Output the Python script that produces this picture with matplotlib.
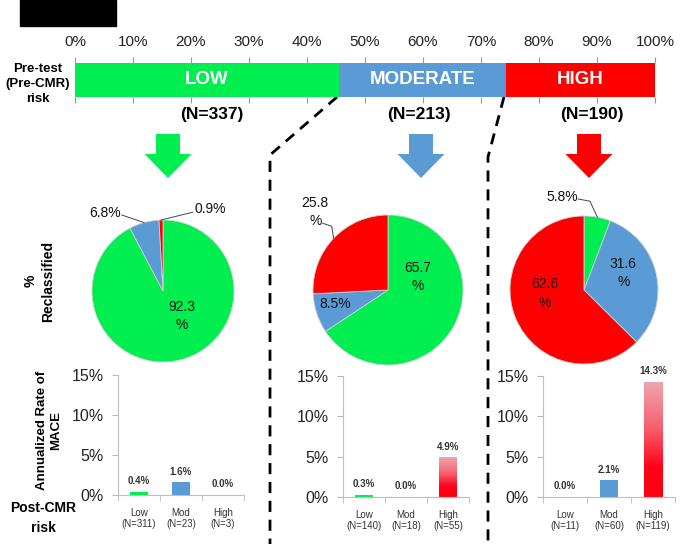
import numpy as np
import matplotlib.pyplot as plt
from matplotlib.colors import LinearSegmentedColormap
from matplotlib.patches import Rectangle, FancyArrow

W, H = 685, 544

# pre-test risk groups
pre_labels = ['LOW', 'MODERATE', 'HIGH']
pre_n = [337, 213, 190]
pct_ticks = ['0%', '10%', '20%', '30%', '40%', '50%', '60%', '70%', '80%', '90%', '100%']

# % reclassified after CMR (Low, Mod, High)
reclass_low = [92.3, 6.8, 0.9]
reclass_mod = [65.7, 8.5, 25.8]
reclass_high = [5.8, 31.6, 62.6]

# annualized MACE rate (%)
post_cats = ['Low', 'Mod', 'High']
mace_low = [0.4, 1.6, 0.0]
mace_mod = [0.3, 0.0, 4.9]
mace_high = [0.0, 2.1, 14.3]
n_low = [311, 23, 3]
n_mod = [140, 18, 55]
n_high = [11, 60, 119]
mace_ticks = [0, 5, 10, 15]

colors = ['#00EE50', '#5B9BD5', '#FF0000']
BOLD = ['Liberation Sans', 'DejaVu Sans']
plt.rcParams['font.family'] = ['Liberation Sans', 'DejaVu Sans']

fig = plt.figure(figsize=(6.85, 5.44), dpi=100)
ov = fig.add_axes([0, 0, 1, 1], zorder=0)
ov.set_xlim(0, W)
ov.set_ylim(H, 0)
ov.axis('off')


def px_axes(x0, y0, x1, y1):
    a = fig.add_axes([x0 / W, 1 - y1 / H, (x1 - x0) / W, (y1 - y0) / H])
    a.patch.set_alpha(0)
    return a


# black box top left
ov.add_patch(Rectangle((20, 0), 96, 26, color='black'))

# stacked pre-test bar
ax = px_axes(75, 63, 655, 97)
shares = np.array(pre_n) / sum(pre_n) * 100
lefts = np.concatenate([[0], np.cumsum(shares)[:-1]])
ax.barh(0, shares, left=lefts, height=1, color=colors)
for l, s, lab in zip(lefts, shares, pre_labels):
    ax.text(l + s / 2, 0, lab, ha='center', va='center', color='white',
            fontsize=13.5, fontweight='bold', family=BOLD)
ax.set_xlim(0, 100)
ax.set_ylim(-0.5, 0.5)
ax.set_xticks(range(0, 101, 10))
ax.set_xticklabels(pct_ticks)
ax.set_yticks([])
ax.tick_params(axis='x', top=True, bottom=True, labeltop=True, labelbottom=False,
               direction='out', length=4, color='#999999', width=0.8,
               labelsize=11, labelcolor='#222222', pad=6)
for s in ax.spines.values():
    s.set_visible(False)

ov.text(38, 84, 'Pre-test\n(Pre-CMR)\nrisk', ha='center', va='center', fontsize=9.5,
        fontweight='bold', family=BOLD, linespacing=1.3)
for xc, n in zip([212, 419, 592], pre_n):
    ov.text(xc, 115, f'(N={n})', ha='center', va='center', fontsize=12.5,
            fontweight='bold', family=BOLD)

# dashed connectors
ov.plot([337, 270, 270], [97, 155, 544], color='black', lw=2, ls=(0, (4, 2.8)))
ov.plot([504, 488, 488], [97, 157, 544], color='black', lw=2, ls=(0, (4, 2.8)))

# block arrows
for xc, c in zip([168, 421, 589], colors):
    ov.add_patch(FancyArrow(xc, 134, 0, 44, width=24, head_width=47, head_length=24,
                            length_includes_head=True, color=c, lw=0))

# pies
pie_specs = [
    (reclass_low, 163, 291, 71,
     [((0.27, -0.35), True, 'center', None),
      ((-0.60, 1.10), False, 'right', [(-0.58, 1.07)]),
      ((0.45, 1.15), False, 'left', [(0.42, 1.11)])]),
    (reclass_mod, 388, 290, 75,
     [((0.40, 0.17), True, 'center', None),
      ((-0.71, -0.19), False, 'center', None),
      ((-0.97, 1.04), True, 'center', [(-0.87, 0.89), (-0.75, 0.85)])]),
    (reclass_high, 584, 290, 74,
     [((-0.30, 1.26), False, 'center', [(-0.08, 1.23), (0.08, 1.20)]),
      ((0.53, 0.23), True, 'center', None),
      ((-0.53, -0.05), True, 'center', None)]),
]
for vals, cx, cy, r, labs in pie_specs:
    pax = px_axes(cx - r, cy - r, cx + r, cy + r)
    pax.pie(vals, colors=colors, startangle=90, counterclock=False,
            wedgeprops=dict(edgecolor='#d0d0d0', linewidth=0.6))
    cum = np.cumsum([0] + vals[:-1])
    for i, (pos, wrap, ha, leader) in enumerate(labs):
        txt = f'{vals[i]:.1f}\n%' if wrap else f'{vals[i]:.1f}%'
        pax.text(pos[0], pos[1], txt, ha=ha, va='center', fontsize=10,
                 color='#111111', linespacing=1.4)
        if leader:
            th = np.deg2rad(90 - 360 * (cum[i] + vals[i] / 2) / 100)
            pts = leader + [(np.cos(th), np.sin(th))]
            pax.plot([p[0] for p in pts], [p[1] for p in pts], color='#444444',
                     lw=0.7, clip_on=False)
    pax.set_xlim(-1, 1)
    pax.set_ylim(-1, 1)
    pax.set_aspect('auto')
    pax.axis('off')

ov.text(39, 281, '%\nReclassified', rotation=90, ha='center', va='center',
        fontsize=10, fontweight='bold', family=BOLD, linespacing=1.3)
ov.text(49, 430, 'Annualized Rate of\nMACE', rotation=90, ha='center', va='center',
        fontsize=9.5, fontweight='bold', family=BOLD, linespacing=1.2)
ov.text(43, 518, 'Post-CMR\nrisk', ha='center', va='center', fontsize=10,
        fontweight='bold', family=BOLD, linespacing=1.5)

# MACE bar panels
grad_cmap = LinearSegmentedColormap.from_list(
    'g', [(0, '#FF0010'), (0.25, '#FF0018'), (0.6, '#F5606E'), (1, '#EFA6AD')])
panels = [
    ((118, 375, 244, 495), mace_low, n_low),
    ((343, 376, 469, 497), mace_mod, n_mod),
    ((543, 376, 675, 497), mace_high, n_high),
]
for box, vals, ns in panels:
    bax = px_axes(*box)
    xs = np.arange(len(post_cats))
    bars = bax.bar(xs, vals, width=0.42, color=colors)
    b = bars[2]
    if vals[2] > 0:
        b.set_facecolor('none')
        grad = np.linspace(0, 1, 100).reshape(-1, 1)
        im = bax.imshow(grad, extent=[b.get_x(), b.get_x() + b.get_width(), 0, vals[2]],
                        origin='lower', aspect='auto', cmap=grad_cmap)
        im.set_clip_path(b)
    for x, v in zip(xs, vals):
        bax.annotate(f'{v:.1f}%', (x, v), xytext=(0, 4), textcoords='offset points',
                     ha='center', va='bottom', fontsize=7, fontweight='bold',
                     color='#333333')
    bax.set_xlim(-0.5, 2.5)
    bax.set_ylim(0, 15)
    bax.set_yticks(mace_ticks)
    bax.set_yticklabels([f'{t}%' for t in mace_ticks])
    bax.set_xticks(xs)
    bax.set_xticklabels([f'{c}\n(N={n})' for c, n in zip(post_cats, ns)])
    bax.set_xticks([-0.5, 0.5, 1.5, 2.5], minor=True)
    bax.tick_params(axis='y', length=4, color='#bbbbbb', labelsize=11.5,
                    labelcolor='#222222', pad=6)
    bax.tick_params(axis='x', which='major', length=0, labelsize=7,
                    labelcolor='#333333', pad=9)
    bax.tick_params(axis='x', which='minor', length=4, color='#bbbbbb')
    for t in bax.get_xticklabels():
        t.set_linespacing(1.15)
    for s in ['top', 'right']:
        bax.spines[s].set_visible(False)
    for s in ['left', 'bottom']:
        bax.spines[s].set_color('#bfbfbf')
        bax.spines[s].set_linewidth(0.8)

fig.savefig('out.png', dpi=100)
